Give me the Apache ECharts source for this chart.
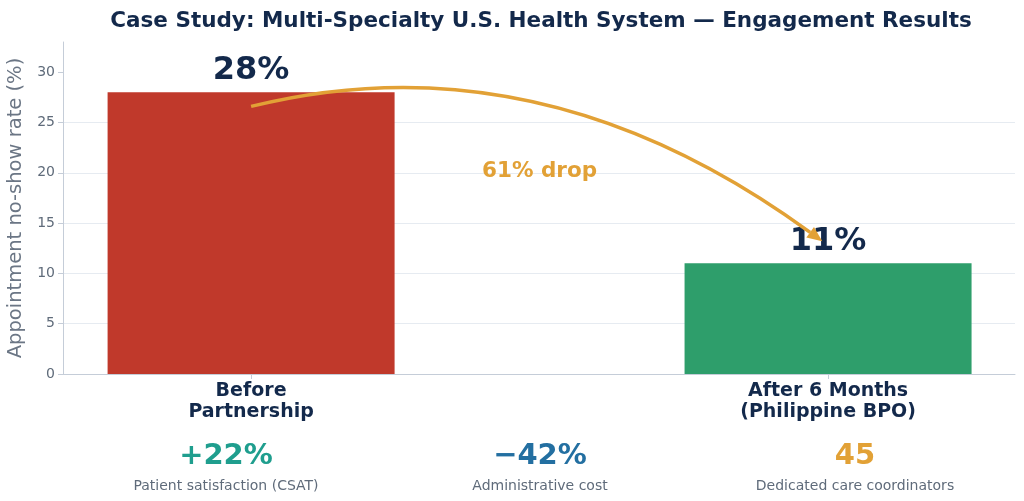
<!DOCTYPE html>
<html>
<head>
<meta charset="utf-8">
<script src="https://cdn.jsdelivr.net/npm/echarts@6/dist/echarts.min.js"></script>
<style>
  html, body { margin: 0; padding: 0; background: #fff; }
  #main { width: 1024px; height: 501px; }
</style>
</head>
<body>
<div id="main"></div>
<script>
// chart data
const categories = ["Before\nPartnership", "After 6 Months\n(Philippine BPO)"];
const noShowRate = [28, 11];
const yTicks = [0, 5, 10, 15, 20, 25, 30];
const dropLabel = "61% drop";
const statValues = ["+22%", "\u221242%", "45"];
const statLabels = ["Patient satisfaction (CSAT)", "Administrative cost", "Dedicated care coordinators"];

// styles
const barColors = ["#c0392b", "#2e9e6b"];
const statColors = ["#1f9e8e", "#236fa1", "#e2a136"];
const navy = "#13294b";
const gold = "#e2a136";
const font = "DejaVu Sans";

let myChart = echarts.init(document.getElementById("main"));

let options = {
  animation: false,
  textStyle: { fontFamily: font },
  title: {
    text: "Case Study: Multi-Specialty U.S. Health System \u2014 Engagement Results",
    left: 536,
    top: 5,
    textAlign: "center",
    textStyle: { fontFamily: font, fontSize: 21.5, fontWeight: "bold", color: navy },
  },
  grid: { left: 63, right: 9, top: 42, bottom: 127, outerBoundsMode: "none", containLabel: false },
  xAxis: {
    type: "value",
    min: -0.326,
    max: 1.324,
    axisLine: { onZero: false, lineStyle: { color: "#c5cdd8", width: 1 } },
    axisTick: { customValues: [0, 1], length: 5, lineStyle: { color: "#c5cdd8" } },
    axisLabel: {
      customValues: [0, 1],
      formatter: (v) => categories[Math.round(v)],
      margin: 7,
      fontSize: 19,
      fontWeight: "bold",
      color: navy,
      lineHeight: 21,
    },
    splitLine: { show: false },
  },
  yAxis: {
    type: "value",
    min: 0,
    max: 33,
    interval: 5,
    name: "Appointment no-show rate (%)",
    nameLocation: "middle",
    nameGap: 36,
    nameTextStyle: { fontSize: 19.5, color: "#6b7685" },
    axisLine: { show: true, onZero: false, lineStyle: { color: "#c5cdd8" } },
    axisTick: { show: true, customValues: yTicks, length: 5, lineStyle: { color: "#c5cdd8" } },
    axisLabel: { customValues: yTicks, fontSize: 14, color: "#5f6b7a", margin: 8 },
    splitLine: { showMaxLine: false, lineStyle: { color: "#e6ebf1" } },
  },
  series: [
    {
      type: "bar",
      barWidth: 287,
      data: noShowRate.map((v, i) => ({
        value: [i, v],
        itemStyle: { color: barColors[i] },
      })),
      label: {
        show: true,
        position: "top",
        distance: 6,
        formatter: (p) => p.value[1] + "%",
        fontSize: 32,
        fontWeight: "bold",
        color: navy,
      },
    },
  ],
};

myChart.setOption(options);

// arrow from the before bar to the after bar, placed with data coords
const toPx = (pt) => myChart.convertToPixel({ gridIndex: 0 }, pt);
const p0 = toPx([0, noShowRate[0] - 1.4]);
const cp = toPx([0.5, 33.7]);
const p2 = toPx([0.99, noShowRate[1] + 2.2]);
const dx = p2[0] - cp[0], dy = p2[1] - cp[1];
const len = Math.sqrt(dx * dx + dy * dy);
const ux = dx / len, uy = dy / len;
const headLen = 15, headW = 6.5;
const base = [p2[0] - ux * headLen, p2[1] - uy * headLen];
const mid = toPx([0.5, 20.1]);

let graphics = [
  {
    type: "bezierCurve",
    z: 100,
    shape: { x1: p0[0], y1: p0[1], x2: base[0], y2: base[1], cpx1: cp[0], cpy1: cp[1] },
    style: { stroke: gold, lineWidth: 3.5, fill: null },
  },
  {
    type: "polygon",
    z: 100,
    shape: {
      points: [
        p2,
        [base[0] - uy * headW, base[1] + ux * headW],
        [base[0] + uy * headW, base[1] - ux * headW],
      ],
    },
    style: { fill: gold },
  },
  {
    type: "text",
    z: 100,
    x: mid[0],
    y: mid[1],
    style: {
      text: dropLabel, fill: gold, font: "bold 21.5px '" + font + "'",
      textAlign: "center", textVerticalAlign: "middle",
    },
  },
];

const statX = [226, 540, 855];
statValues.forEach((s, i) => {
  graphics.push({
    type: "text", x: statX[i], y: 456,
    style: { text: s, fill: statColors[i], font: "bold 29px '" + font + "'", textAlign: "center", textVerticalAlign: "middle" },
  });
  graphics.push({
    type: "text", x: statX[i], y: 486,
    style: { text: statLabels[i], fill: "#5f6b7a", font: "14px '" + font + "'", textAlign: "center", textVerticalAlign: "middle" },
  });
});

myChart.setOption({ graphic: graphics });
</script>
</body>
</html>
